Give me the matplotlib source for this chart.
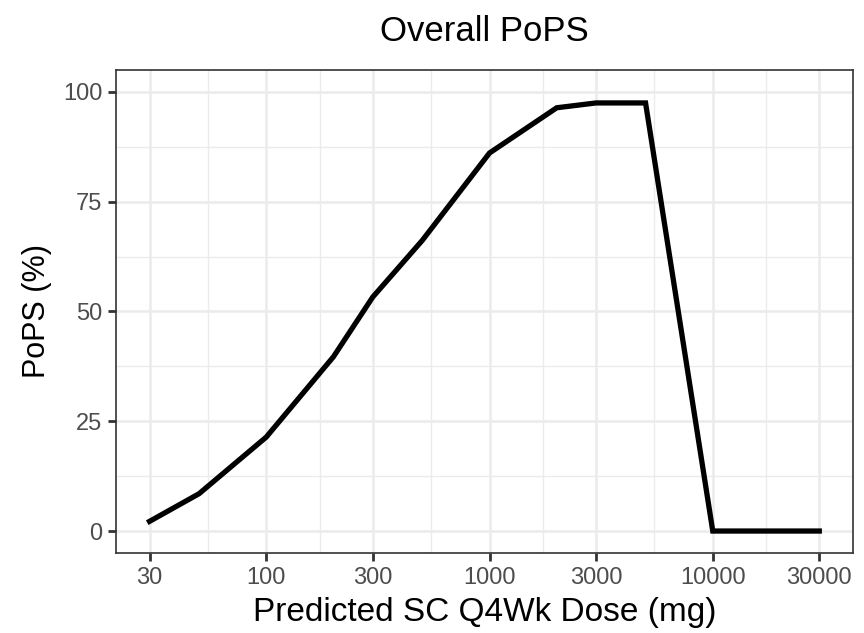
import numpy as np
import matplotlib
matplotlib.use("Agg")
import matplotlib.pyplot as plt
from matplotlib.ticker import FixedLocator, NullFormatter

dose = [30, 50, 100, 200, 300, 500, 1000, 2000, 3000, 5000, 10000, 30000]
pops = [2.2, 8.5, 21.4, 39.7, 53.3, 66.2, 86.1, 96.4, 97.5, 97.5, 0.0, 0.0]
xticks = [30, 100, 300, 1000, 3000, 10000, 30000]
yticks = [0, 25, 50, 75, 100]

plt.rcParams['font.family'] = ['Liberation Sans', 'DejaVu Sans']

fig = plt.figure(figsize=(8.64, 6.33), dpi=100)
ax = fig.add_axes([0.1343, 0.1264, 0.987 - 0.1343, 0.8894 - 0.1264])

ax.set_xscale("log")
lx = np.log10(xticks)
xmin, xmax = lx[0], lx[-1]
pad = 0.05 * (xmax - xmin)
ax.set_xlim(10 ** (xmin - pad), 10 ** (xmax + pad))
ax.set_ylim(-5, 105)

ax.xaxis.set_major_locator(FixedLocator(xticks))
ax.set_xticklabels([str(t) for t in xticks])
minor_x = [10 ** ((lx[i] + lx[i + 1]) / 2) for i in range(len(lx) - 1)]
ax.xaxis.set_minor_locator(FixedLocator(minor_x))
ax.xaxis.set_minor_formatter(NullFormatter())
ax.yaxis.set_major_locator(FixedLocator(yticks))
ax.yaxis.set_minor_locator(FixedLocator([12.5, 37.5, 62.5, 87.5]))

ax.grid(True, which="major", color="#EBEBEB", linewidth=1.8)
ax.grid(True, which="minor", color="#EBEBEB", linewidth=1.0)
ax.set_axisbelow(True)

ax.plot(dose, pops, color="black", linewidth=3.8, solid_joinstyle="miter")

for s in ax.spines.values():
    s.set_color("#333333")
    s.set_linewidth(1.2)

ax.tick_params(which="major", length=6, width=2.0, color="#333333",
               labelcolor="#4D4D4D", labelsize=17, pad=4)
ax.tick_params(which="minor", length=0)

ax.set_xlabel("Predicted SC Q4Wk Dose (mg)", fontsize=24, labelpad=6, color="black")
ax.set_ylabel("PoPS (%)", fontsize=22, labelpad=8, color="black")
ax.set_title("Overall PoPS", fontsize=25, pad=21)

fig.savefig("out.png", dpi=100)
